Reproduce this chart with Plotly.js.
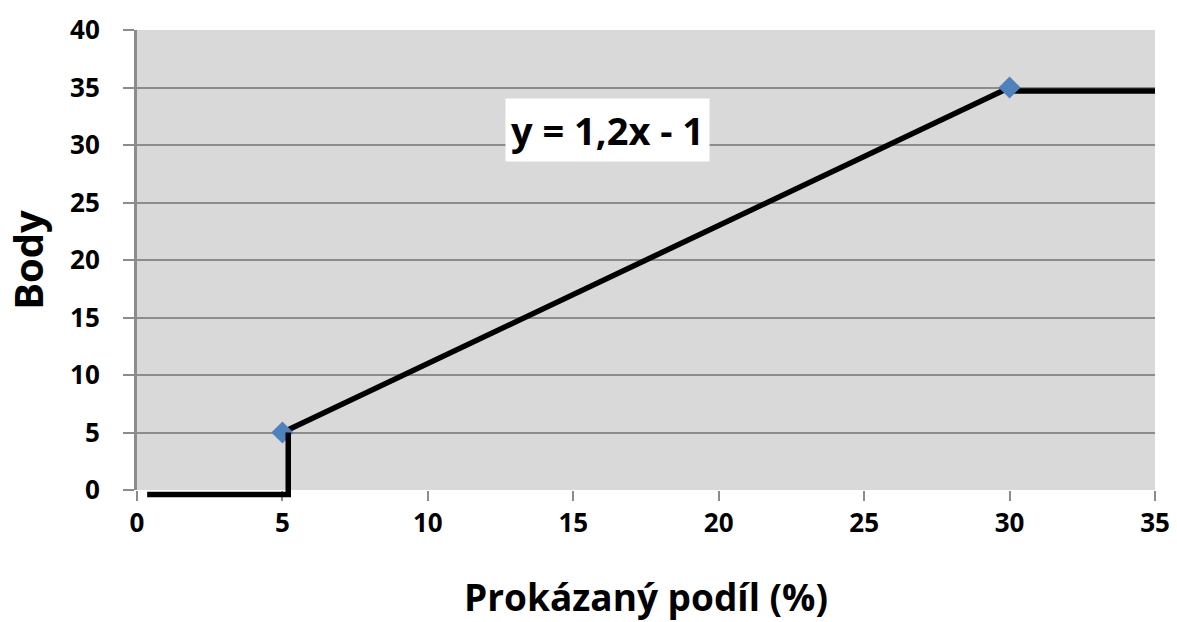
<!DOCTYPE html>
<html>
<head>
<meta charset="utf-8">
<script src="https://cdn.plot.ly/plotly-3.0.1.min.js"></script>
<style>html,body{margin:0;padding:0;background:#fff;}#chart{width:1177px;height:622px;}</style>
</head>
<body>
<div id="chart"></div>
<script>
// Data
const lowX = [0.35, 5.2, 5.2];
const lowY = [-0.4, -0.4, 5];
const rampX = [5, 30];
const rampY = [5, 35];
const highX = [30, 35];
const highY = [34.7, 34.7];
const pointX = [5, 30];
const pointY = [5, 35];
const xTicks = [0, 5, 10, 15, 20, 25, 30, 35];
const yTicks = [0, 5, 10, 15, 20, 25, 30, 35, 40];
const equation = "y = 1,2x - 1";

const xRange = [0, 35];
const yRange = [0, 40];

const lineStyle = {color: '#000000', width: 5.5};
const traces = [
  {x: rampX, y: rampY, mode: 'lines', line: lineStyle, hoverinfo: 'skip', showlegend: false},
  {x: highX, y: highY, mode: 'lines', line: lineStyle, hoverinfo: 'skip', showlegend: false},
  {x: pointX, y: pointY, mode: 'markers', cliponaxis: false, marker: {symbol: 'diamond', size: 17, color: '#4f81bd'}, showlegend: false}
];

// The lower step dips just below the plot area, so it is drawn as an unclipped
// shape in axis-domain coordinates computed from its data values.
const fx = v => (v - xRange[0]) / (xRange[1] - xRange[0]);
const fy = v => (v - yRange[0]) / (yRange[1] - yRange[0]);
const lowPath = lowX.map((v, i) => (i ? 'L' : 'M') + fx(v) + ',' + fy(lowY[i])).join(' ');

const tickFont = {family: 'Open Sans, sans-serif', size: 26, color: '#000', weight: 'bold'};
const layout = {
  width: 1177, height: 622,
  margin: {l: 137, r: 22, t: 30, b: 132},
  paper_bgcolor: '#ffffff',
  plot_bgcolor: '#d9d9d9',
  font: {family: 'Open Sans, sans-serif'},
  xaxis: {
    range: xRange, tickvals: xTicks, ticktext: xTicks.map(String),
    showgrid: false, zeroline: false, showline: false,
    ticks: 'outside', ticklen: 10, tickwidth: 2, tickcolor: '#8c8c8c',
    tickfont: tickFont, ticklabelstandoff: 0,
    title: {text: 'Prokázaný podíl (%)', font: {family: 'Open Sans, sans-serif', size: 37, color: '#000', weight: 'bold'}, standoff: 45},
    automargin: false
  },
  yaxis: {
    range: yRange, tickvals: yTicks, ticktext: yTicks.map(String),
    showgrid: true, gridcolor: '#8c8c8c', gridwidth: 2, zeroline: false,
    showline: true, linecolor: '#8c8c8c', linewidth: 3,
    ticks: 'outside', ticklen: 11, tickwidth: 2, tickcolor: '#8c8c8c',
    tickfont: tickFont, ticklabelstandoff: 18,
    title: {text: 'Body', font: {family: 'Open Sans, sans-serif', size: 40, color: '#000', weight: 'bold'}, standoff: 40},
    automargin: false
  },
  shapes: [{
    type: 'path', xref: 'x domain', yref: 'y domain', path: lowPath,
    line: lineStyle, layer: 'above'
  }],
  annotations: [{
    x: 16.16, y: 31.3, xref: 'x', yref: 'y', text: equation, showarrow: false,
    font: {family: 'Open Sans, sans-serif', size: 38, color: '#000', weight: 'bold'},
    bgcolor: '#ffffff', borderpad: 5
  }]
};

Plotly.newPlot('chart', traces, layout, {displayModeBar: false, staticPlot: true});
</script>
</body>
</html>
